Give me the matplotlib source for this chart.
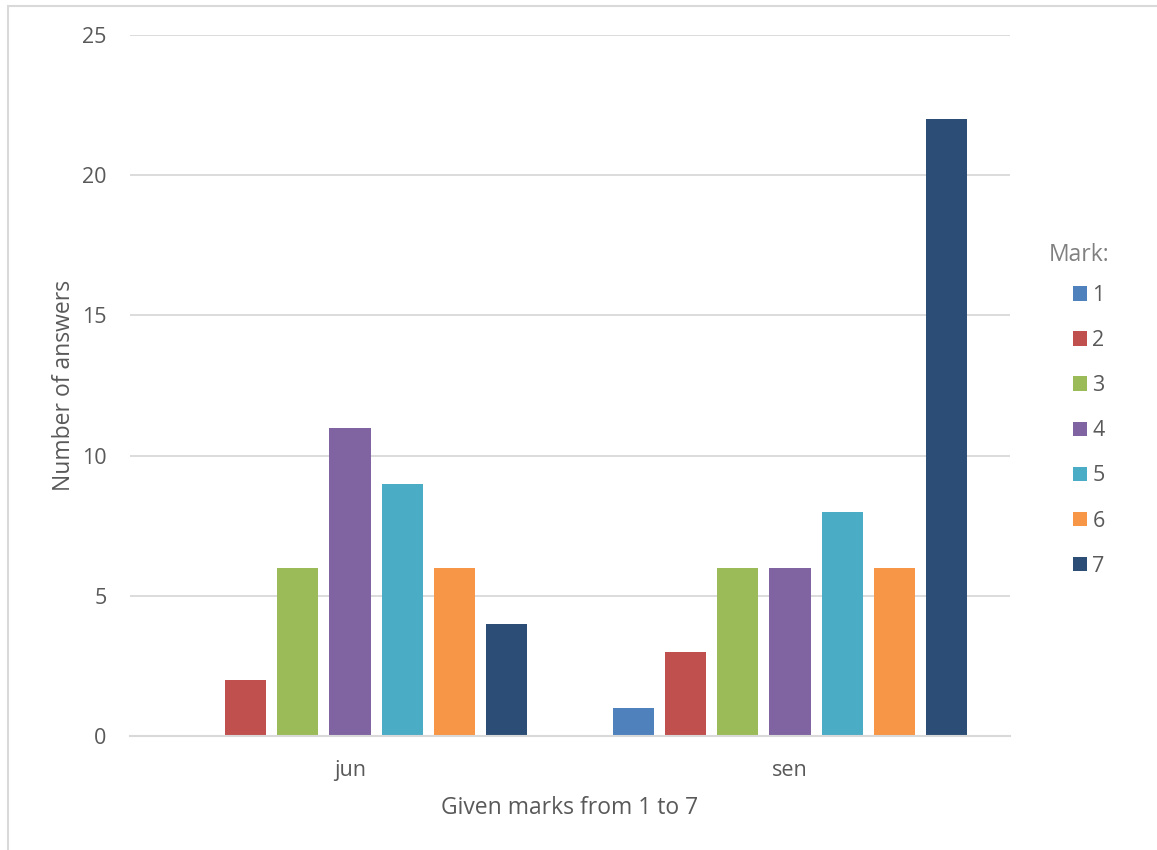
import matplotlib
matplotlib.use("Agg")
import matplotlib.pyplot as plt
from matplotlib.patches import Rectangle
import numpy as np

plt.rcParams['font.family'] = ['Open Sans', 'DejaVu Sans']

categories = ["jun", "sen"]
marks = ["1", "2", "3", "4", "5", "6", "7"]
counts_jun = [0, 2, 6, 11, 9, 6, 4]
counts_sen = [1, 3, 6, 6, 8, 6, 22]
colors = ["#4F81BD", "#C0504D", "#9BBB59", "#8064A2", "#4BACC6", "#F79646", "#2C4D75"]

W, H = 1157, 850
fig = plt.figure(figsize=(W / 100, H / 100), dpi=100)
ax = fig.add_axes([130 / W, (H - 736) / H, 880 / W, 701 / H])

text_color = "#595959"
grid_color = "#D9D9D9"

x = np.arange(len(categories))
step = 0.1182
width = 0.0932
values = np.array([counts_jun, counts_sen])
for i, (m, c) in enumerate(zip(marks, colors)):
    offs = (i - 3) * step
    ax.bar(x + offs, values[:, i], width=width, color=c, label=m, zorder=3)

ax.set_xlim(-0.5, 1.5)
ax.set_ylim(0, 25)
ax.set_yticks([0, 5, 10, 15, 20, 25])
ax.set_xticks(x)
ax.set_xticklabels(categories)
ax.yaxis.grid(True, color=grid_color, linewidth=1.3, zorder=0)
ax.set_axisbelow(True)
for s in ["top", "right", "left"]:
    ax.spines[s].set_visible(False)
ax.spines["bottom"].set_color(grid_color)
ax.spines["bottom"].set_linewidth(1.5)
ax.spines["bottom"].set_zorder(4)
ax.tick_params(axis="both", length=0, colors=text_color, labelsize=15.5)
ax.tick_params(axis="y", pad=17)
ax.tick_params(axis="x", pad=17)

ax.set_xlabel("Given marks from 1 to 7", fontsize=16.5, color=text_color, labelpad=11)
ax.set_ylabel("Number of answers", fontsize=16.5, color=text_color, labelpad=4)

leg = ax.legend(loc="upper left", bbox_to_anchor=(1073 / W, (H - 285) / H),
                bbox_transform=fig.transFigure, frameon=False, fontsize=15.5,
                handlelength=0.65, handleheight=0.65, handletextpad=0.25,
                labelspacing=1.12, borderaxespad=0, borderpad=0)
for t in leg.get_texts():
    t.set_color(text_color)
fig.text(1049 / W, (H - 255) / H, "Mark:", fontsize=16.5, color="#808080",
         ha="left", va="center")

# chart frame
fig.patches.append(Rectangle((8 / W, -0.1), 1.2, (H - 6) / H + 0.1,
                             transform=fig.transFigure, fill=False,
                             edgecolor="#D9D9D9", linewidth=1.5))

fig.savefig("out.png", dpi=100)
